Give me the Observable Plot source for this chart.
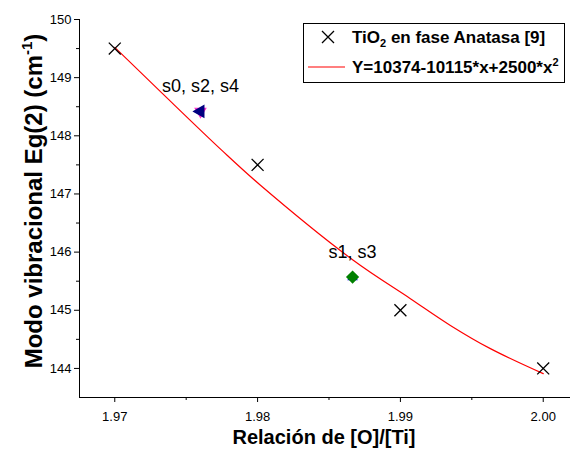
<!DOCTYPE html>
<html><head><meta charset="utf-8">
<script src="https://cdn.jsdelivr.net/npm/d3@7"></script>
<script src="https://cdn.jsdelivr.net/npm/@observablehq/plot@0.6"></script>
<style>body{margin:0;background:#fff}</style>
</head><body><div id="chart"></div>
<script>
// Data
const ratio = [1.97, 1.98, 1.99, 2.00];
const anatase = [149.5, 147.5, 145.0, 144.0];
const fitX = [1.970, 1.9732, 1.9775, 1.9802, 1.9867, 1.9907, 1.9935, 1.9963, 2.000];
const fitY = [149.52, 148.76, 147.75, 147.15, 145.86, 145.20, 144.74, 144.34, 143.91];
const sampleLabels = ["s0, s2, s4", "s1, s3"];
const sampleX = [1.976, 1.98665];
const sampleY = [148.42, 145.57];
const xTicks = [1.97, 1.98, 1.99, 2.00];
const xMinor = [1.975, 1.985, 1.995];
const yTicks = [144, 145, 146, 147, 148, 149, 150];
const yMinor = [144.5, 145.5, 146.5, 147.5, 148.5, 149.5];
const legendLabels = ["TiO", "2", " en fase Anatasa [9]", "Y=10374-10115*x+2500*x", "2"];
const xTitle = "Relación de [O]/[Ti]";
const yTitle = ["Modo vibracional Eg(2) (cm", "-1", ")"];

const font = "'Liberation Sans', Arial, sans-serif";
const xMin = 1.96753, xMax = 2.00191, yMin = 143.5, yMax = 150;

const anataseData = ratio.map((x, i) => ({x, y: anatase[i]}));
const fitData = fitX.map((x, i) => ({x, y: fitY[i]}));
const samples = sampleLabels.map((label, i) => ({label, x: sampleX[i], y: sampleY[i]}));

const svg = Plot.plot({
  width: 571, height: 449,
  marginLeft: 79, marginRight: 1, marginTop: 19, marginBottom: 52,
  style: {fontFamily: font, fontSize: "13px", background: "white", color: "black"},
  x: {domain: [xMin, xMax]},
  y: {domain: [yMin, yMax]},
  marks: [
    Plot.axisX({ticks: xTicks, tickFormat: d3.format(".2f"), tickSize: 5, tickPadding: 9, label: null, fontSize: 13}),
    Plot.axisX({ticks: xMinor, tickFormat: () => "", tickSize: 3, label: null}),
    Plot.axisY({ticks: yTicks, tickFormat: d3.format("d"), tickSize: 5, tickPadding: 3, label: null, fontSize: 13}),
    Plot.axisY({ticks: yMinor, tickFormat: () => "", tickSize: 3, label: null}),
    Plot.ruleX([xMin], {stroke: "black"}),
    Plot.ruleY([yMin], {stroke: "black"}),
    Plot.line(fitData, {x: "x", y: "y", stroke: "red", strokeWidth: 1.2, curve: "catmull-rom"}),
    Plot.dot(anataseData, {x: "x", y: "y", symbol: "times", r: 5.5, stroke: "black", strokeWidth: 1.3}),
    // overlapping sample markers
    Plot.dot([samples[0]], {x: "x", y: "y", symbol: "triangle2", rotate: 180, r: 4.8, fill: "#ff33cc", stroke: "#ff33cc"}),
    Plot.dot([samples[0]], {x: "x", y: "y", symbol: "triangle", rotate: -90, r: 4.2, fill: "#000080", stroke: "#000080"}),
    Plot.dot([samples[1]], {x: "x", y: "y", symbol: "triangle2", r: 3.8, fill: "#0000ff", stroke: "#0000ff"}),
    Plot.dot([samples[1]], {x: "x", y: "y", symbol: "diamond2", r: 5, fill: "#008000", stroke: "#008000"}),
    Plot.text(samples, {x: "x", y: "y", text: "label", dy: -25, fontSize: 18, fill: "black"}),
  ]
});

const s = d3.select(svg);
// x title
s.append("text").attr("x", 324).attr("y", 444).attr("text-anchor", "middle")
  .attr("font-family", font).attr("font-weight", "bold").attr("font-size", 20).text(xTitle);
// y title
const yt = s.append("text").attr("transform", "translate(42,201) rotate(-90)").attr("text-anchor", "middle")
  .attr("font-family", font).attr("font-weight", "bold").attr("font-size", 24);
yt.append("tspan").text(yTitle[0]);
yt.append("tspan").attr("font-size", 15).attr("dy", -10).text(yTitle[1]);
yt.append("tspan").attr("dy", 10).text(yTitle[2]);
// legend
const lg = s.append("g").attr("text-anchor", "start");
lg.append("rect").attr("x", 303.5).attr("y", 23.5).attr("width", 261).attr("height", 59)
  .attr("fill", "white").attr("stroke", "black").attr("stroke-width", 1);
lg.append("path").attr("d", "M322,31L334,43M334,31L322,43").attr("stroke", "black").attr("stroke-width", 1.3).attr("fill", "none");
const t1 = lg.append("text").attr("x", 352).attr("y", 43).attr("text-anchor", "start").attr("font-family", font).attr("font-weight", "bold").attr("font-size", 17);
t1.append("tspan").text(legendLabels[0]);
t1.append("tspan").attr("font-size", 11).attr("dy", 4).text(legendLabels[1]);
t1.append("tspan").attr("dy", -4).text(legendLabels[2]);
lg.append("line").attr("x1", 308).attr("x2", 345).attr("y1", 67).attr("y2", 67).attr("stroke", "red").attr("stroke-width", 1.2);
const t2 = lg.append("text").attr("x", 352).attr("y", 73).attr("text-anchor", "start").attr("font-family", font).attr("font-weight", "bold").attr("font-size", 17);
t2.append("tspan").text(legendLabels[3]);
t2.append("tspan").attr("font-size", 11).attr("dy", -7).text(legendLabels[4]);

document.getElementById("chart").appendChild(svg);
</script>
</body></html>
